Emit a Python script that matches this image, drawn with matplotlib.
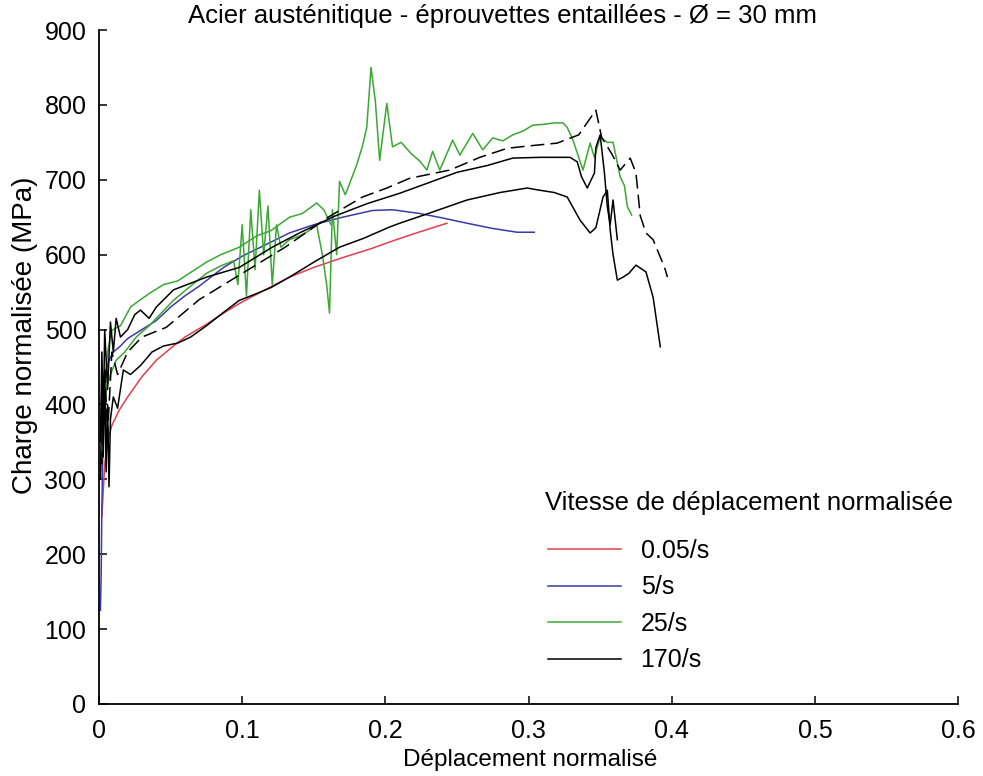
import numpy as np
import matplotlib
matplotlib.use("Agg")
import matplotlib.pyplot as plt

plt.rcParams['font.family'] = ['Liberation Sans', 'DejaVu Sans']

# DATA
title = "Acier austénitique - éprouvettes entaillées - Ø = 30 mm"
xlabel = "Déplacement normalisé"
ylabel = "Charge normalisée (MPa)"
legend_title = "Vitesse de déplacement normalisée"
labels = ["0.05/s", "5/s", "25/s", "170/s"]
xticks = [0, 0.1, 0.2, 0.3, 0.4, 0.5, 0.6]
yticks = [0, 100, 200, 300, 400, 500, 600, 700, 800, 900]

red_x = [0.002, 0.004, 0.006, 0.009, 0.014, 0.02, 0.03, 0.04, 0.05, 0.06, 0.075, 0.087,
         0.10, 0.115, 0.133, 0.15, 0.17, 0.19, 0.203, 0.22, 0.243]
red_y = [250, 320, 350, 372, 392, 410, 437, 459, 475, 490, 507, 522,
         537, 552, 570, 583, 596, 608, 617, 628, 642]

blue_x = [0.001, 0.0015, 0.002, 0.003, 0.004, 0.006, 0.01, 0.015, 0.02, 0.03, 0.04, 0.05,
          0.06, 0.07, 0.087, 0.10, 0.115, 0.133, 0.15, 0.17, 0.191, 0.205, 0.224, 0.24,
          0.257, 0.275, 0.292, 0.304]
blue_y = [125, 170, 260, 380, 430, 455, 470, 478, 488, 500, 512, 530,
          545, 558, 583, 598, 612, 629, 640, 650, 659, 660, 655, 649,
          642, 635, 630, 630]

# 25/s, first test (smoother, upper)
green1_x = [0.002, 0.004, 0.006, 0.009, 0.015, 0.022, 0.029, 0.035, 0.045, 0.055, 0.063,
            0.075, 0.085, 0.098, 0.11, 0.12, 0.133, 0.142, 0.152, 0.157, 0.162]
green1_y = [330, 420, 470, 499, 505, 530, 540, 548, 560, 565, 575,
            590, 600, 610, 625, 632, 650, 655, 669, 660, 640]

# 25/s, second test (noisy, with the spike)
green2_x = [0.001, 0.003, 0.005, 0.008, 0.012, 0.018, 0.026, 0.035, 0.045, 0.052, 0.062,
            0.075, 0.085, 0.094, 0.097, 0.100, 0.103, 0.106, 0.109, 0.112, 0.115, 0.118,
            0.121, 0.124, 0.127, 0.133, 0.140, 0.145, 0.152, 0.156, 0.159, 0.161, 0.163,
            0.166, 0.168, 0.172, 0.176, 0.180, 0.184, 0.187, 0.190, 0.193, 0.196, 0.201,
            0.205, 0.211, 0.218, 0.224, 0.229, 0.233, 0.238, 0.247, 0.252, 0.261, 0.268,
            0.275, 0.282, 0.289, 0.296, 0.303, 0.310, 0.318, 0.324, 0.327, 0.331, 0.338,
            0.343, 0.346, 0.350, 0.355, 0.359, 0.364, 0.367, 0.369, 0.372]
green2_y = [300, 380, 420, 440, 459, 470, 490, 505, 525, 539, 555,
            575, 585, 592, 560, 640, 545, 660, 580, 686, 600, 665,
            560, 640, 610, 620, 625, 630, 640, 600, 560, 522, 660,
            600, 698, 680, 700, 720, 745, 770, 850, 805, 726, 802,
            744, 750, 735, 725, 713, 738, 713, 753, 733, 762, 740,
            756, 752, 760, 765, 773, 774, 776, 776, 770, 753, 713,
            749, 730, 757, 750, 750, 704, 692, 664, 653]

# 170/s, lower test
black1_x = [0.001, 0.002, 0.003, 0.004, 0.005, 0.006, 0.007, 0.008, 0.010, 0.013, 0.017,
            0.022, 0.029, 0.037, 0.045, 0.055, 0.064, 0.075, 0.085, 0.098, 0.11, 0.12,
            0.133, 0.15, 0.168, 0.185, 0.203, 0.21, 0.23, 0.257, 0.28, 0.299, 0.308,
            0.318, 0.327, 0.336, 0.343, 0.347, 0.352, 0.355, 0.357, 0.359, 0.362, 0.366,
            0.370, 0.375, 0.382, 0.387, 0.392]
black1_y = [300, 420, 330, 440, 310, 400, 290, 380, 410, 395, 446,
            440, 452, 470, 478, 482, 490, 505, 520, 539, 548, 556,
            570, 590, 610, 622, 637, 642, 655, 673, 683, 689, 686,
            683, 677, 646, 629, 636, 677, 686, 633, 600, 566, 570,
            575, 586, 577, 543, 477]

# 170/s, upper solid test
black2_x = [0.001, 0.002, 0.003, 0.004, 0.006, 0.008, 0.010, 0.012, 0.015, 0.020, 0.025,
            0.029, 0.035, 0.040, 0.052, 0.075, 0.098, 0.121, 0.140, 0.164, 0.187, 0.21,
            0.233, 0.25, 0.271, 0.289, 0.308, 0.329, 0.334, 0.337, 0.341, 0.346, 0.347,
            0.350, 0.353, 0.355, 0.357, 0.359, 0.362]
black2_y = [350, 470, 380, 500, 420, 510, 470, 515, 490, 500, 520,
            526, 515, 530, 553, 570, 583, 610, 629, 651, 668, 682,
            698, 710, 719, 729, 730, 730, 724, 704, 689, 709, 743,
            760, 709, 664, 640, 673, 620]

# 170/s, third test (broken trace)
black3_x = [0.002, 0.004, 0.006, 0.009, 0.013, 0.02, 0.03, 0.047, 0.07, 0.10, 0.13, 0.16,
            0.184, 0.201, 0.217, 0.245, 0.266, 0.285, 0.299, 0.320, 0.335, 0.347, 0.351,
            0.358, 0.364, 0.371, 0.375, 0.378, 0.382, 0.387, 0.390, 0.395, 0.397]
black3_y = [320, 450, 360, 470, 440, 470, 490, 503, 540, 575, 610, 650,
            677, 689, 702, 713, 730, 742, 745, 749, 760, 793, 757,
            735, 713, 729, 709, 652, 629, 620, 606, 583, 570]

fig = plt.figure(figsize=(9.83, 7.76), dpi=100)
ax = fig.add_axes([0.1007, 0.0928, 0.874, 0.8685])

lw = 1.1
red_line, = ax.plot(red_x, red_y, color='#e0404c', lw=lw)
blue_line, = ax.plot(blue_x, blue_y, color='#3a3aa8', lw=lw)
green_line, = ax.plot(green1_x, green1_y, color='#3aa832', lw=lw)
ax.plot(green2_x, green2_y, color='#3aa832', lw=lw)
black_line, = ax.plot(black1_x, black1_y, color='black', lw=lw)
ax.plot(black2_x, black2_y, color='black', lw=lw)
ax.plot(black3_x, black3_y, color='black', lw=lw, linestyle=(0, (9, 4)))

ax.set_xlim(0, 0.6)
ax.set_ylim(0, 900)
ax.set_xticks(xticks)
ax.set_xticklabels([str(v) for v in xticks])
ax.set_yticks(yticks)
ax.spines['top'].set_visible(False)
ax.spines['right'].set_visible(False)
ax.spines['left'].set_linewidth(1.3)
ax.spines['bottom'].set_linewidth(1.3)
ax.tick_params(axis='x', direction='in', length=6, width=1.1, labelsize=18, pad=11)
ax.tick_params(axis='y', direction='in', length=6, width=1.1, labelsize=18, pad=9)

fig.text(503 / 983, 1 - 16 / 776, title, ha='center', va='center', fontsize=18.5)
fig.text(530 / 983, 1 - 760 / 776, xlabel, ha='center', va='center', fontsize=17.5)
fig.text(25 / 983, 1 - 335 / 776, ylabel, ha='center', va='center', rotation=90, fontsize=20)
fig.text(545 / 983, 1 - 503 / 776, legend_title, ha='left', va='center', fontsize=18.5)

ax.legend([red_line, blue_line, green_line, black_line], labels,
          loc='upper left', bbox_to_anchor=(0.5227, 0.245),
          frameon=False, fontsize=18, handlelength=2.9,
          handletextpad=0.8, labelspacing=0.5, borderpad=0, borderaxespad=0)

fig.savefig('out.png', dpi=100)
